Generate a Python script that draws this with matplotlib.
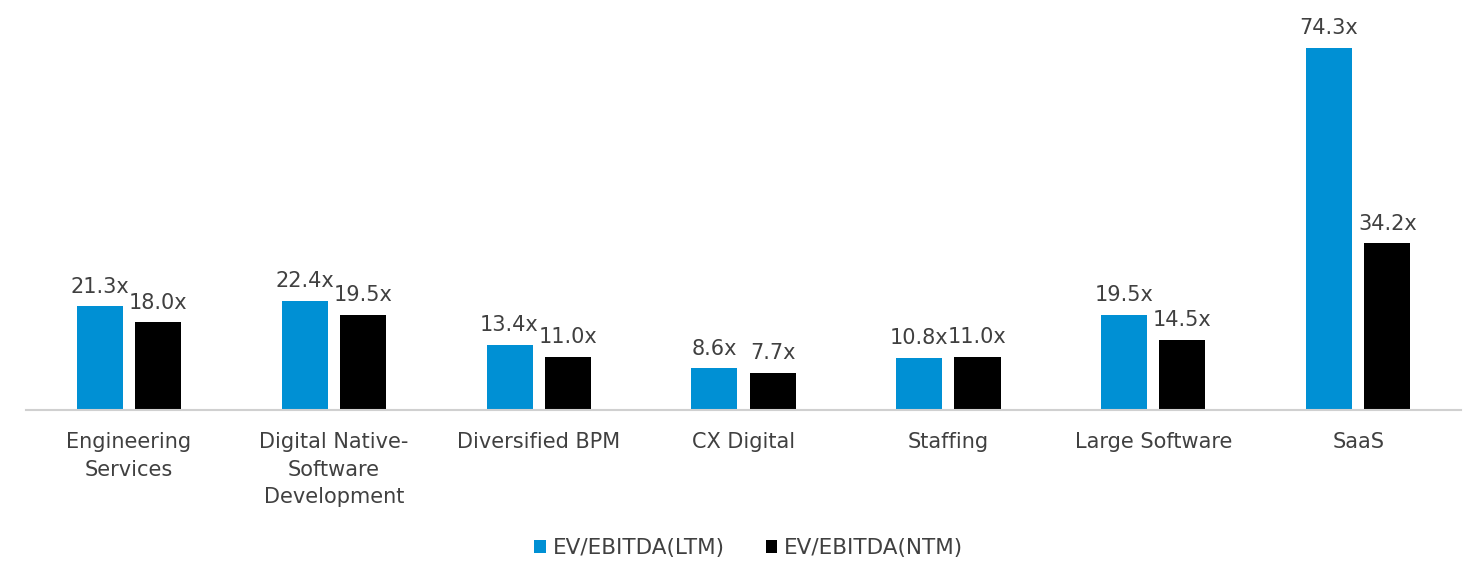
import matplotlib
matplotlib.use("Agg")
import matplotlib.pyplot as plt
import numpy as np

# data
categories = ["Engineering\nServices", "Digital Native-\nSoftware\nDevelopment", "Diversified BPM",
              "CX Digital", "Staffing", "Large Software", "SaaS"]
ltm = [21.3, 22.4, 13.4, 8.6, 10.8, 19.5, 74.3]
ntm = [18.0, 19.5, 11.0, 7.7, 11.0, 14.5, 34.2]
series_names = ["EV/EBITDA(LTM)", "EV/EBITDA(NTM)"]

blue = "#0090d4"
txt = "#404040"

plt.rcParams["font.family"] = ["DejaVu Sans"]

fig = plt.figure(figsize=(14.68, 5.62), dpi=100)
ax = fig.add_axes([0.018, 0.27, 0.977, 0.712])

x = np.arange(len(categories))
w = 0.225
off = 0.142
b1 = ax.bar(x - off, ltm, w, color=blue, label=series_names[0])
b2 = ax.bar(x + off, ntm, w, color="black", label=series_names[1])

for bars, vals in ((b1, ltm), (b2, ntm)):
    for b, v in zip(bars, vals):
        ax.text(b.get_x() + b.get_width() / 2, v + 2.0, f"{v:.1f}x",
                ha="center", va="bottom", fontsize=15, color=txt)

ax.set_xlim(-0.5, len(categories) - 0.5)
ax.set_ylim(0, 82)
ax.set_yticks([])
ax.set_xticks(x)
ax.set_xticklabels(categories, fontsize=15, color=txt, linespacing=1.45)
ax.tick_params(axis="x", length=0, pad=16)
for s in ["top", "right", "left"]:
    ax.spines[s].set_visible(False)
ax.spines["bottom"].set_color("#d0d0d0")
ax.spines["bottom"].set_linewidth(1.5)

leg = fig.legend(loc="center", bbox_to_anchor=(0.51, 0.025), ncol=2, frameon=False,
                 fontsize=15.5, handlelength=0.55, handleheight=0.55, handletextpad=0.3,
                 columnspacing=1.9)
for t in leg.get_texts():
    t.set_color(txt)

fig.savefig("out.png", dpi=100)
